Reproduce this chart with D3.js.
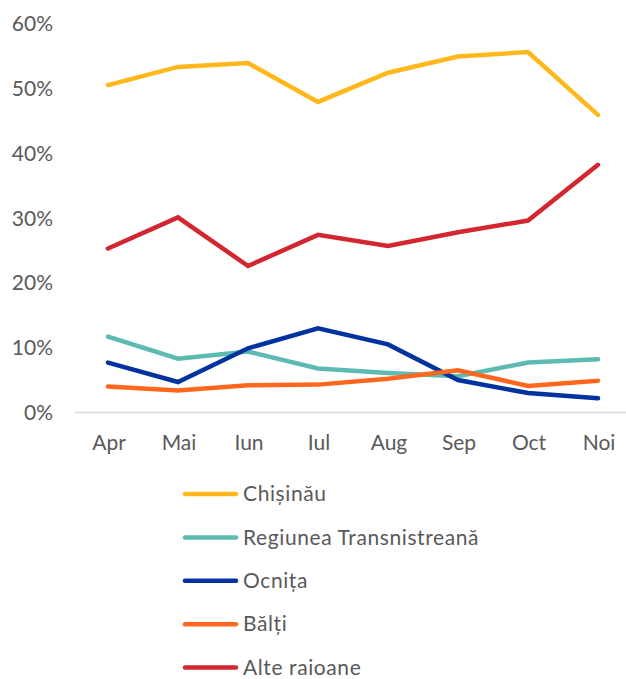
<!DOCTYPE html>
<html>
<head>
<meta charset="utf-8">
<script src="https://cdn.jsdelivr.net/npm/d3@7"></script>
<style>
  html, body { margin: 0; padding: 0; background: #fff; }
  svg { display: block; }
  text { font-family: "Lato", "Open Sans", sans-serif; fill: #595959; }
</style>
</head>
<body>
<svg id="chart" width="626" height="679"></svg>
<script>
const months = ["Apr", "Mai", "Iun", "Iul", "Aug", "Sep", "Oct", "Noi"];
const seriesNames = ["Chișinău", "Regiunea Transnistreană", "Ocnița", "Bălți", "Alte raioane"];
const seriesColors = ["#FFB81C", "#5DBAB1", "#0033A0", "#FF671F", "#D22630"];
const chisinau = [50.5, 53.3, 53.9, 47.9, 52.4, 54.9, 55.6, 45.9];
const transnistria = [11.7, 8.3, 9.4, 6.8, 6.1, 5.6, 7.7, 8.2];
const ocnita = [7.7, 4.7, 9.9, 13.0, 10.5, 5.0, 3.0, 2.2];
const balti = [4.0, 3.4, 4.2, 4.3, 5.2, 6.5, 4.1, 4.9];
const alteRaioane = [25.3, 30.1, 22.6, 27.4, 25.7, 27.8, 29.6, 38.2];
const yTicks = [0, 10, 20, 30, 40, 50, 60];

// draw order: last drawn on top
const drawOrder = [0, 4, 1, 2, 3];
const allSeries = [chisinau, transnistria, ocnita, balti, alteRaioane];

const svg = d3.select("#chart");
const x = d3.scaleBand().domain(months).range([73, 633]);
const y = d3.scaleLinear().domain([0, 60]).range([412.5, 23.5]);

// y tick labels
svg.append("g").selectAll("text").data(yTicks).join("text")
  .attr("x", 53).attr("y", d => y(d)).attr("dy", "0.36em")
  .attr("text-anchor", "end").style("font-size", "21px")
  .text(d => d + "%");

// x axis line
svg.append("line").attr("x1", 75).attr("x2", 633)
  .attr("y1", y(0)).attr("y2", y(0))
  .attr("stroke", "#d9d9d9").attr("stroke-width", 1.5);

// x labels
svg.append("g").selectAll("text").data(months).join("text")
  .attr("x", d => x(d) + x.bandwidth() / 2 + 1).attr("y", 450)
  .attr("text-anchor", "middle").style("font-size", "21px")
  .text(d => d);

const line = d3.line()
  .x((d, i) => x(months[i]) + x.bandwidth() / 2)
  .y(d => y(d));

drawOrder.forEach(k => {
  svg.append("path").datum(allSeries[k])
    .attr("d", line).attr("fill", "none")
    .attr("stroke", seriesColors[k]).attr("stroke-width", 4.5)
    .attr("stroke-linecap", "round").attr("stroke-linejoin", "miter");
});

// legend
const leg = svg.append("g").selectAll("g").data(seriesNames).join("g")
  .attr("transform", (d, i) => `translate(0, ${494 + i * 43.4})`);
leg.append("line").attr("x1", 185).attr("x2", 236).attr("y1", 0).attr("y2", 0)
  .attr("stroke", (d, i) => seriesColors[i]).attr("stroke-width", 4.5)
  .attr("stroke-linecap", "round");
leg.append("text").attr("x", 243).attr("y", 0).attr("dy", "0.34em")
  .style("font-size", "21px").style("letter-spacing", "0.6px").text(d => d);
</script>
</body>
</html>
